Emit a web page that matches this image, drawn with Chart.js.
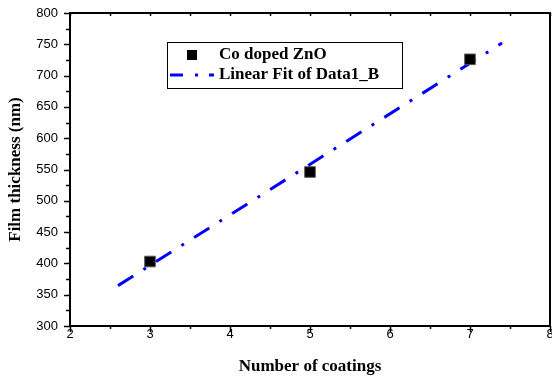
<!DOCTYPE html>
<html>
<head>
<meta charset="utf-8">
<script src="https://cdn.jsdelivr.net/npm/chart.js@4.4.1/dist/chart.umd.min.js"></script>
<style>
  html, body { margin: 0; padding: 0; background: #fff; }
  #chart { display: block; }
</style>
</head>
<body>
<canvas id="chart" width="552" height="376"></canvas>
<script>
// measured points
var coatings = [3, 5, 7];
var thickness = [403, 546, 726];

// linear fit end points
var fitX = [2.6, 7.4];
var fitY = [364.5, 752];

var xTicks = [2, 3, 4, 5, 6, 7, 8];
var yTicks = [300, 350, 400, 450, 500, 550, 600, 650, 700, 750, 800];

var seriesNames = ["Co doped ZnO", "Linear Fit of Data1_B"];

var fitDash = [18, 12, 3, 12];
var serif = "'Liberation Serif', 'Times New Roman', serif";
var sans = "'Liberation Sans', Arial, sans-serif";

// minor/major ticks, frame and the legend box
var framePlugin = {
    id: 'frame',
    afterDraw: function(chart) {
        var ctx = chart.ctx;
        var a = chart.chartArea;
        var xs = chart.scales.x, ys = chart.scales.y;
        ctx.save();
        ctx.strokeStyle = '#000';
        ctx.lineWidth = 1.5;
        ctx.beginPath();
        for (var v = 2; v <= 8.001; v += 0.5) {
            var px = Math.round(xs.getPixelForValue(v)) + 0.5;
            var len = (v % 1 === 0) ? 6 : 3;
            ctx.moveTo(px, a.bottom); ctx.lineTo(px, a.bottom + len);
            ctx.moveTo(px, a.top); ctx.lineTo(px, a.top + 3);
        }
        for (var w = 300; w <= 800; w += 25) {
            var py = Math.round(ys.getPixelForValue(w)) + 0.5;
            var l2 = (w % 50 === 0) ? 6 : 4;
            ctx.moveTo(a.left, py); ctx.lineTo(a.left - l2, py);
        }
        ctx.stroke();
        ctx.lineWidth = 2;
        ctx.strokeRect(a.left, a.top, a.right - a.left, a.bottom - a.top);

        // legend
        var lx = 167, ly = 42;
        ctx.lineWidth = 1;
        ctx.strokeRect(lx + 0.5, ly + 0.5, 235, 46);
        ctx.fillStyle = '#000';
        ctx.fillRect(187, 50, 10, 10);
        ctx.strokeStyle = '#0000ff';
        ctx.lineWidth = 3;
        ctx.setLineDash([13, 12, 3, 11]);
        ctx.beginPath();
        ctx.moveTo(170, 75); ctx.lineTo(214, 75);
        ctx.stroke();
        ctx.setLineDash([]);
        ctx.font = 'bold 17px ' + serif;
        ctx.textBaseline = 'middle';
        ctx.fillStyle = '#000';
        ctx.fillText(seriesNames[0], 219, 55);
        ctx.fillText(seriesNames[1], 219, 75);
        ctx.restore();
    }
};

var ctx = document.getElementById('chart');
var chart = new Chart(ctx, {
    type: 'scatter',
    data: {
        datasets: [
            {
                label: seriesNames[0],
                data: coatings.map(function(c, i) { return {x: c, y: thickness[i]}; }),
                pointStyle: 'rect',
                pointRadius: 7.5,
                backgroundColor: '#000',
                borderColor: '#555',
                borderWidth: 1,
                order: 1
            },
            {
                label: seriesNames[1],
                data: fitX.map(function(c, i) { return {x: c, y: fitY[i]}; }),
                showLine: true,
                pointRadius: 0,
                borderColor: '#0000ff',
                borderWidth: 3,
                borderDash: fitDash,
                borderCapStyle: 'butt',
                order: 2
            }
        ]
    },
    options: {
        responsive: false,
        animation: false,
        layout: { autoPadding: false, padding: { top: 13, right: 2, left: 0, bottom: 0 } },
        plugins: {
            legend: { display: false },
            tooltip: { enabled: false }
        },
        scales: {
            x: {
                type: 'linear',
                min: 2, max: 8,
                afterBuildTicks: function(s) { s.ticks = xTicks.map(function(v) { return {value: v}; }); },
                afterFit: function(s) { s.height = 50; s.paddingLeft = 0; s.paddingRight = 0; },
                grid: { display: false, drawTicks: false },
                border: { display: false },
                ticks: { color: '#000', padding: 1, maxRotation: 0, font: { family: sans, size: 13 } },
                title: {
                    display: true, text: 'Number of coatings', color: '#000',
                    font: { family: serif, size: 17, weight: 'bold' },
                    padding: { top: 0, bottom: -1 }
                }
            },
            y: {
                min: 300, max: 800,
                afterBuildTicks: function(s) { s.ticks = yTicks.map(function(v) { return {value: v}; }); },
                afterFit: function(s) { s.width = 70; s.paddingTop = 0; s.paddingBottom = 0; },
                grid: { display: false, drawTicks: false },
                border: { display: false },
                ticks: { color: '#000', padding: 12, font: { family: sans, size: 13 } },
                title: {
                    display: true, text: 'Film thickness (nm)', color: '#000',
                    font: { family: serif, size: 17, weight: 'bold' },
                    padding: { top: 5, bottom: 0 }
                }
            }
        }
    },
    plugins: [framePlugin]
});
</script>
</body>
</html>
